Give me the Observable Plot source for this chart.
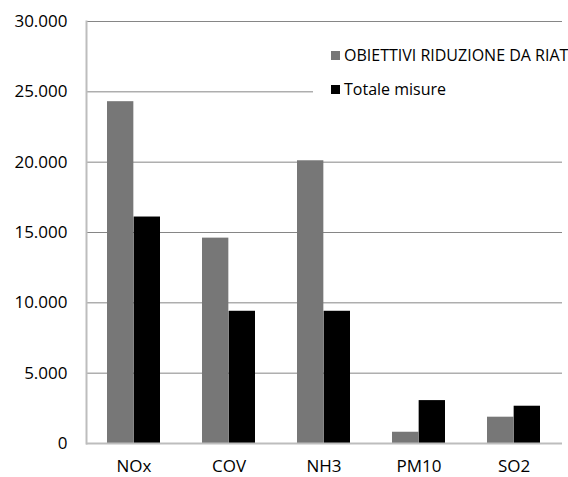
<!DOCTYPE html>
<html>
<head>
<meta charset="utf-8">
<script src="https://cdn.jsdelivr.net/npm/d3@7"></script>
<script src="https://cdn.jsdelivr.net/npm/@observablehq/plot@0.6"></script>
<style>
  html, body { margin: 0; padding: 0; background: #fff; }
  #wrap { position: relative; width: 568px; height: 477px; overflow: hidden; }
  #legend {
    position: absolute; left: 313px; top: 36px; width: 255px; height: 72px;
    background: #fff; font-family: "Open Sans", sans-serif; font-size: 16px; color: #000;
    white-space: nowrap; overflow: hidden;
  }
  .item { position: absolute; left: 18px; display: flex; align-items: center; }
  .sw { width: 9px; height: 9px; margin-right: 4px; }
</style>
</head>
<body>
<div id="wrap">
  <div id="chart"></div>
  <div id="legend"></div>
</div>
<script>
const categories = ["NOx", "COV", "NH3", "PM10", "SO2"];
const obiettivi = [24300, 14600, 20100, 800, 1870];
const totale = [16100, 9400, 9400, 3050, 2650];
const seriesNames = ["OBIETTIVI RIDUZIONE DA RIAT", "Totale misure"];
const seriesColors = ["#777777", "#000000"];
const yTicks = [0, 5000, 10000, 15000, 20000, 25000, 30000];

const itLocale = d3.formatLocale({decimal: ",", thousands: ".", grouping: [3], currency: ["€", ""]});
const fmt = itLocale.format(",d");

const rows = [];
categories.forEach((c, i) => {
  rows.push({cat: c, series: seriesNames[0], value: obiettivi[i]});
  rows.push({cat: c, series: seriesNames[1], value: totale[i]});
});

const W = 568, H = 477;
const mL = 86, mR = 6, mT = 21, mB = 34;
const padInner = 0.44, padOuter = 0.22;
const step = (W - mL - mR) / (categories.length - padInner + 2 * padOuter);
const half = step * (1 - padInner) / 2;

const chart = Plot.plot({
  width: W,
  height: H,
  marginLeft: mL,
  marginRight: mR,
  marginTop: mT,
  marginBottom: mB,
  style: {fontFamily: "Open Sans, sans-serif", fontSize: "17px", color: "#000", background: "#fff"},
  x: {domain: categories, paddingInner: padInner, paddingOuter: padOuter, tickSize: 0, tickPadding: 16, label: null},
  y: {domain: [0, 30000], ticks: yTicks, tickFormat: fmt, tickSize: 0, tickPadding: 19, label: null},
  color: {domain: seriesNames, range: seriesColors},
  marks: [
    Plot.ruleY(yTicks.filter(d => d > 0), {stroke: "#868686", strokeWidth: 1}),
    Plot.barY(rows.filter(d => d.series === seriesNames[0]), {x: "cat", y: "value", fill: "series", insetRight: half}),
    Plot.barY(rows.filter(d => d.series === seriesNames[1]), {x: "cat", y: "value", fill: "series", insetLeft: half}),
    Plot.ruleY([0], {stroke: "#bdbdbd", strokeWidth: 2}),
    Plot.frame({anchor: "left", stroke: "#bdbdbd", strokeWidth: 2})
  ]
});
document.getElementById("chart").appendChild(chart);

const legend = document.getElementById("legend");
seriesNames.forEach((name, i) => {
  const item = document.createElement("div");
  item.className = "item";
  item.style.top = (i === 0 ? 8 : 42) + "px";
  const sw = document.createElement("span");
  sw.className = "sw";
  sw.style.background = seriesColors[i];
  const t = document.createElement("span");
  t.textContent = name;
  item.appendChild(sw);
  item.appendChild(t);
  legend.appendChild(item);
});
</script>
</body>
</html>
